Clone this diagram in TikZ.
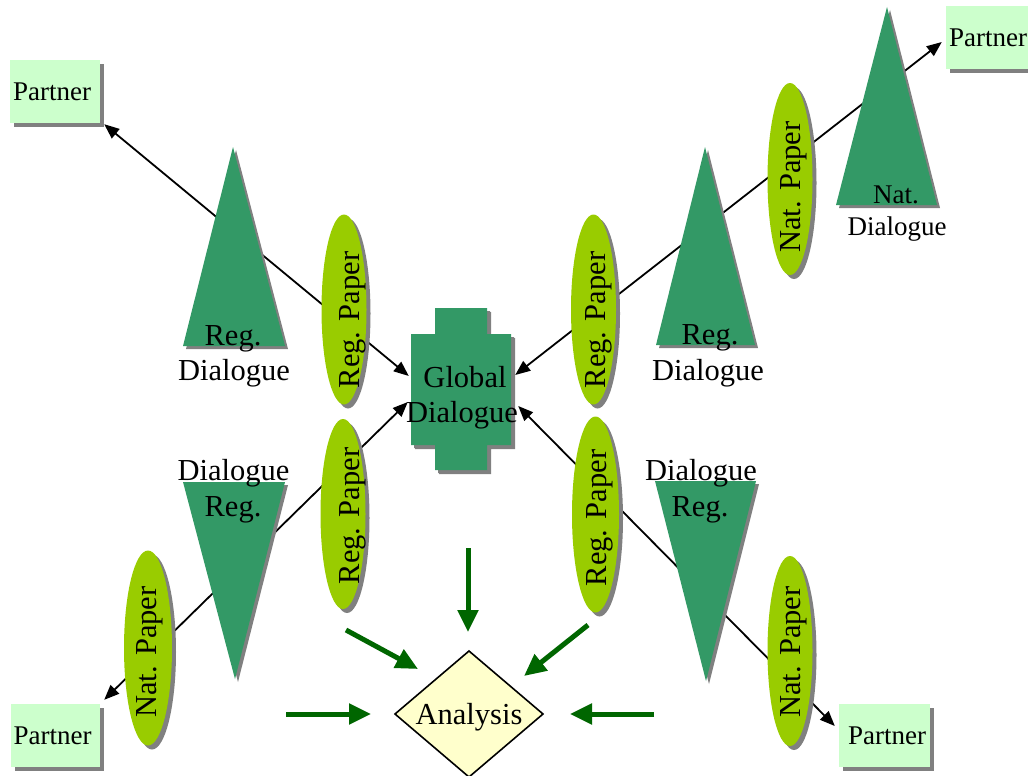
\documentclass[tikz,border=0pt]{standalone}
\usepackage{fontspec}
\setmainfont{Liberation Serif}
\usetikzlibrary{arrows.meta,shapes.geometric,calc}
\definecolor{tric}{HTML}{339966}
\definecolor{ellc}{HTML}{99CC00}
\definecolor{pboxc}{HTML}{CCFFCC}
\definecolor{shdc}{HTML}{808080}
\definecolor{anac}{HTML}{FFFFCC}
\definecolor{garr}{HTML}{006600}
\begin{document}
\begin{tikzpicture}[x=1pt,y=-1pt,
  bigf/.style={font=\fontsize{30.5}{36}\selectfont},
  lbl/.style={bigf, inner sep=0pt, anchor=base},
  slbl/.style={font=\fontsize{27}{32}\selectfont, inner sep=0pt, anchor=base},
  withshadow/.style={preaction={fill=shdc, transform canvas={shift={(#1,-#1)}}}},
  withshadow/.default=4pt,
  partner/.style={fill=pboxc, withshadow, font=\fontsize{27}{32}\selectfont, inner sep=0pt, minimum height=63pt},
  paper/.style={ellipse, fill=ellc, withshadow=4pt, inner sep=0pt, minimum width=45pt, minimum height=190pt},
  ptxt/.style={bigf, inner sep=0pt, rotate=90},
  tribox/.style={fill=tric, withshadow=3pt},
  conn/.style={line width=1.8pt, {Triangle[length=15pt,width=12pt]}-{Triangle[length=15pt,width=12pt]}},
  feed/.style={draw=garr, line width=5pt, -{Triangle[length=22pt,width=20pt]}},
]
\useasboundingbox (0,0) rectangle (1028,776);
\clip (0,0) rectangle (1028,776);

% Global dialogue shape
\fill[tribox, withshadow=4pt] (435,308) -- (487,308) -- (487,334) -- (511,334) -- (511,445) -- (487,445)
  -- (487,470) -- (435,470) -- (435,445) -- (411,445) -- (411,334) -- (435,334) -- cycle;
\node[inner sep=0pt, minimum width=100pt, minimum height=111pt] (glob) at (461,389.5) {};

% Partner boxes
\node[partner, minimum width=90pt, text depth=0pt] (pTL) at (55,91.5) {\hspace*{-6pt}Partner};
\node[partner, minimum width=84pt] (pTR) at (988,37.5) {Partner};
\node[partner, minimum width=89pt] (pBL) at (55.5,735.5) {\hspace*{-6pt}Partner};
\node[partner, minimum width=91pt] (pBR) at (884.5,735.5) {\hspace*{5pt}Partner};

% connector ends
\coordinate (gA) at ($(glob.west)+(-2,-13.5)$);
\coordinate (gB) at ($(glob.east)+(4,-14.5)$);
\coordinate (gC) at ($(glob.west)+(-3,12.5)$);
\coordinate (gD) at ($(glob.east)+(7,16.5)$);
\coordinate (tA) at ($(pTL.south east)+(4,1)$);
\coordinate (tB) at ($(pTR.west)+(-4,4.5)$);
\coordinate (tC) at ($(pBL.north east)+(4,-4)$);
\coordinate (tD) at ($(pBR.west)+(-4,-9.5)$);

\draw[conn] (gA) -- (tA);
\draw[conn] (gB) -- (tB);
\draw[conn] (gC) -- (tC);
\draw[conn] (gD) -- (tD);

% Triangles
\fill[tribox] (233,147) -- (285,346) -- (183,346) -- cycle;
\fill[tribox] (705,147) -- (755,345) -- (656,345) -- cycle;
\fill[tribox] (887,7) -- (937,205) -- (836,205) -- cycle;
\fill[tribox] (183,482) -- (285,482) -- (235,679) -- cycle;
\fill[tribox] (655,481) -- (756,481) -- (706,681) -- cycle;

% Papers
\node[paper] (eUL) at (344,309.5) {};
\node[paper] (eUR) at (593.5,309.5) {};
\node[paper] (eLL) at (343,514) {};
\node[paper, minimum width=47pt, minimum height=196pt] (eLR) at (595.5,514.5) {};
\node[paper, minimum height=192pt] (eNTR) at (790,179) {};
\node[paper, minimum width=48pt, minimum height=195pt] (eNBL) at (148,648) {};
\node[paper] (eNBR) at (790,651) {};

\node[ptxt] (eULt) at (353,320) {Reg. Paper};
\node[ptxt] (eURt) at (599,320) {Reg. Paper};
\node[ptxt] (eLLt) at (353,516) {Reg. Paper};
\node[ptxt] (eLRt) at (599.5,518) {Reg. Paper};
\node[ptxt] (eNTRt) at (794,187) {Nat. Paper};
\node[ptxt] (eNBLt) at (150,652) {Nat. Paper};
\node[ptxt] (eNBRt) at (794,652) {Nat. Paper};

% Triangle labels
\node[lbl] (l1a) at (233,345) {Reg.};
\node[lbl] (l1b) at (234,380) {Dialogue};
\node[lbl] (l2a) at (710,344) {Reg.};
\node[lbl] (l2b) at (708,380) {Dialogue};
\node[slbl] (l3a) at (896,203) {Nat.};
\node[slbl] (l3b) at (897,235) {Dialogue};
\node[lbl] (l4a) at (233.5,480) {Dialogue};
\node[lbl] (l4b) at (233,516) {Reg.};
\node[lbl] (l5a) at (701,480) {Dialogue};
\node[lbl] (l5b) at (700,516) {Reg.};

% Global label
\node[lbl] (globT) at (465,387) {Global};
\node[lbl] (globD) at (462,422) {Dialogue};

% Analysis
\filldraw[fill=anac, draw=black, line width=1.6pt] (395,714) -- (469,651) -- (543,714) -- (469,777) -- cycle;
\node[lbl] (ana) at (469,724) {Analysis};

% Green arrows
\coordinate (f1s) at (468,548); \coordinate (f1e) at (468,632);
\coordinate (f2s) at (346,630); \coordinate (f2e) at (418,669);
\coordinate (f3s) at (588,625); \coordinate (f3e) at (524,676);
\coordinate (f4s) at (286,714); \coordinate (f4e) at (371,714);
\coordinate (f5s) at (654,714); \coordinate (f5e) at (570,714);
\draw[feed] (f1s) -- (f1e);
\draw[feed] (f2s) -- (f2e);
\draw[feed] (f3s) -- (f3e);
\draw[feed] (f4s) -- (f4e);
\draw[feed] (f5s) -- (f5e);
\end{tikzpicture}
\end{document}
